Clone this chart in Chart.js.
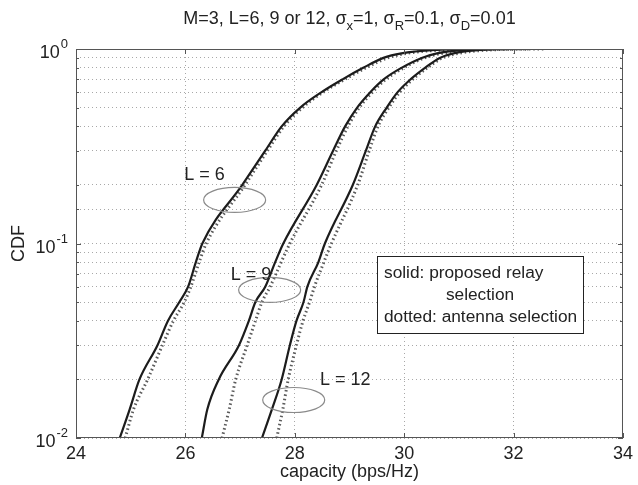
<!DOCTYPE html>
<html>
<head>
<meta charset="utf-8">
<script src="https://cdn.jsdelivr.net/npm/chart.js@4.4.0/dist/chart.umd.min.js"></script>
<style>
html, body { margin: 0; padding: 0; background: #fff; }
</style>
</head>
<body>
<canvas id="c" width="638" height="485"></canvas>
<script>
var cdfLevels = [0.01, 0.014, 0.02, 0.03, 0.04, 0.05, 0.06, 0.08, 0.1, 0.2, 0.3, 0.4, 0.5, 0.6, 0.7, 0.8, 0.9, 0.95, 0.99, 1];

// capacity (bps/Hz), solid = proposed relay selection
var solidL6  = [24.80, 24.98, 25.16, 25.49, 25.68, 25.89, 26.05, 26.19, 26.31, 27.04, 27.46, 27.76, 28.10, 28.49, 28.88, 29.25, 29.62, 29.95, 30.60, 31.20];
var solidL9  = [26.30, 26.40, 26.61, 26.98, 27.16, 27.28, 27.46, 27.64, 27.79, 28.40, 28.70, 28.92, 29.14, 29.38, 29.63, 29.95, 30.32, 30.60, 31.10, 31.60];
var solidL12 = [27.40, 27.58, 27.76, 27.91, 28.03, 28.16, 28.23, 28.43, 28.55, 29.06, 29.30, 29.47, 29.68, 29.88, 30.12, 30.38, 30.65, 30.90, 31.40, 31.90];

// dotted = antenna selection
var dotL6  = [24.90, 25.05, 25.31, 25.58, 25.78, 25.98, 26.10, 26.25, 26.38, 27.09, 27.50, 27.80, 28.14, 28.52, 28.92, 29.30, 29.70, 30.05, 30.80, 32.00];
var dotL9  = [26.67, 26.80, 26.92, 27.13, 27.28, 27.40, 27.55, 27.75, 27.91, 28.49, 28.76, 28.97, 29.18, 29.42, 29.67, 29.99, 30.37, 30.70, 31.30, 32.30];
var dotL12 = [27.67, 27.78, 27.88, 28.03, 28.15, 28.27, 28.36, 28.53, 28.67, 29.15, 29.36, 29.52, 29.72, 29.92, 30.16, 30.42, 30.70, 31.00, 31.60, 32.55];

var xTicks = [24, 26, 28, 30, 32, 34];
var yDecades = [1, 0.1, 0.01];
var yExponents = ['0', '-1', '-2'];

// ellipse notes (data coords) and their labels
var noteText = ['L = 6', 'L = 9', 'L = 12'];
var noteCap = [26.90, 27.54, 27.98];
var noteCdf = [0.1675, 0.0577, 0.01568];
var noteLabelCap = [25.98, 26.83, 28.46];
var noteLabelCdf = [0.212, 0.0649, 0.01873];

var FONT = '"Liberation Sans", Arial, Helvetica, sans-serif';

function pts(xs) {
    var out = [];
    for (var i = 0; i < xs.length; i++) {
        out.push({ x: xs[i], y: cdfLevels[i] });
    }
    return out;
}

function solidSet(xs) {
    return { data: pts(xs), borderColor: '#1c1c1c', borderWidth: 2.2, pointRadius: 0, cubicInterpolationMode: 'monotone', fill: false, order: 0 };
}
function dotSet(xs) {
    return { data: pts(xs), borderColor: '#5a5a5a', borderWidth: 3, borderDash: [1.5, 2.8], borderCapStyle: 'butt', pointRadius: 0, cubicInterpolationMode: 'monotone', fill: false, order: 1 };
}

var decor = {
    id: 'decor',
    afterDatasetsDraw: function (chart) {
        var ctx = chart.ctx;
        var a = chart.chartArea;
        var xs = chart.scales.x, ys = chart.scales.y;
        ctx.save();

        // axes box
        ctx.strokeStyle = '#555';
        ctx.lineWidth = 1;
        ctx.strokeRect(a.left + 0.5, a.top + 0.5, a.right - a.left - 1, a.bottom - a.top - 1);

        // inward ticks
        ctx.beginPath();
        xTicks.forEach(function (v) {
            var px = Math.round(xs.getPixelForValue(v)) + 0.5;
            ctx.moveTo(px, a.bottom); ctx.lineTo(px, a.bottom - 5);
            ctx.moveTo(px, a.top); ctx.lineTo(px, a.top + 5);
        });
        ys.ticks.forEach(function (t) {
            var py = Math.round(ys.getPixelForValue(t.value)) + 0.5;
            var len = yDecades.indexOf(t.value) >= 0 ? 5 : 3;
            ctx.moveTo(a.left, py); ctx.lineTo(a.left + len, py);
            ctx.moveTo(a.right, py); ctx.lineTo(a.right - len, py);
        });
        ctx.stroke();

        // y tick labels 10^n
        ctx.fillStyle = '#222';
        ctx.textBaseline = 'alphabetic';
        yDecades.forEach(function (v, i) {
            var py = ys.getPixelForValue(v);
            ctx.font = '13px ' + FONT;
            var ew = ctx.measureText(yExponents[i]).width;
            ctx.font = '18px ' + FONT;
            var bw = ctx.measureText('10').width;
            var right = 68;
            ctx.textAlign = 'left';
            ctx.fillText('10', right - ew - bw - 1, py + 9);
            ctx.font = '13px ' + FONT;
            ctx.fillText(yExponents[i], right - ew, py - 1);
        });

        // title with subscripts
        var parts = [['M=3, L=6, 9 or 12, \u03c3', 0], ['x', 1], ['=1, \u03c3', 0], ['R', 1], ['=0.1, \u03c3', 0], ['D', 1], ['=0.01', 0]];
        var total = 0;
        parts.forEach(function (p) {
            ctx.font = (p[1] ? '13px ' : '18px ') + FONT;
            total += ctx.measureText(p[0]).width;
        });
        var tx = (a.left + a.right) / 2 - total / 2;
        ctx.textAlign = 'left';
        parts.forEach(function (p) {
            ctx.font = (p[1] ? '13px ' : '18px ') + FONT;
            ctx.fillText(p[0], tx, p[1] ? 30 : 24);
            tx += ctx.measureText(p[0]).width;
        });

        // ellipses with labels
        ctx.strokeStyle = '#8a8a8a';
        ctx.lineWidth = 1.2;
        for (var i = 0; i < noteText.length; i++) {
            var cx = xs.getPixelForValue(noteCap[i]);
            var cy = ys.getPixelForValue(noteCdf[i]);
            ctx.beginPath();
            ctx.ellipse(cx, cy, 31, 12.5, 0, 0, Math.PI * 2);
            ctx.stroke();
            ctx.font = '18px ' + FONT;
            ctx.fillStyle = '#222';
            ctx.fillText(noteText[i], xs.getPixelForValue(noteLabelCap[i]), ys.getPixelForValue(noteLabelCdf[i]));
        }

        // legend note box
        var bx = 377, by = 256, bw2 = 206, bh = 77;
        ctx.fillStyle = '#fff';
        ctx.fillRect(bx, by, bw2, bh);
        ctx.strokeStyle = '#222';
        ctx.lineWidth = 1;
        ctx.strokeRect(bx + 0.5, by + 0.5, bw2, bh);
        ctx.fillStyle = '#222';
        ctx.font = '17.3px ' + FONT;
        ctx.textAlign = 'left';
        ctx.fillText('solid: proposed relay', bx + 7, by + 22);
        ctx.textAlign = 'center';
        ctx.fillText('selection', bx + bw2 / 2, by + 44);
        ctx.textAlign = 'left';
        ctx.fillText('dotted: antenna selection', bx + 7, by + 66);

        ctx.restore();
    }
};

var chart = new Chart(document.getElementById('c'), {
    type: 'line',
    data: {
        datasets: [
            solidSet(solidL6), solidSet(solidL9), solidSet(solidL12),
            dotSet(dotL6), dotSet(dotL9), dotSet(dotL12)
        ]
    },
    options: {
        responsive: false,
        animation: false,
        layout: { padding: { left: 0, right: 11, top: 49, bottom: 0 } },
        plugins: { legend: { display: false }, title: { display: false }, tooltip: { enabled: false } },
        scales: {
            x: {
                type: 'linear', min: 24, max: 34,
                ticks: { stepSize: 2, color: '#222', font: { family: FONT, size: 18 }, padding: 5, maxRotation: 0 },
                grid: { color: '#a8a8a8', drawTicks: false },
                border: { display: false, dash: [1, 3] },
                title: { display: true, text: 'capacity (bps/Hz)', color: '#222', font: { family: FONT, size: 18 }, padding: { top: 0, bottom: 2 } },
                afterFit: function (s) { s.height = 47; }
            },
            y: {
                type: 'logarithmic', min: 0.01, max: 1,
                ticks: { callback: function () { return ''; } },
                grid: { color: '#a8a8a8', drawTicks: false },
                border: { display: false, dash: [1, 3] },
                title: { display: true, text: 'CDF', color: '#222', font: { family: FONT, size: 18 }, padding: { top: 8, bottom: 0 } },
                afterFit: function (s) { s.width = 76; }
            }
        }
    },
    plugins: [decor]
});
</script>
</body>
</html>
